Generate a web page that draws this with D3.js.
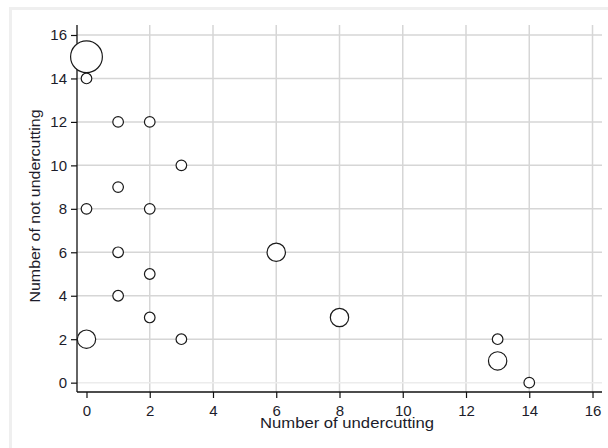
<!DOCTYPE html>
<html>
<head>
<meta charset="utf-8" />
<title>Undercutting</title>
<script src="https://d3js.org/d3.v7.min.js"></script>
<style>
  body { margin: 0; background: #fff; }
  svg text { font-family: "Liberation Sans", Arial, sans-serif; fill: #1c1c2a; }
</style>
</head>
<body>
<div id="chart"></div>
<script>
// observations: x = undercutting, y = not undercutting, n = frequency (marker weight)
var undercut    = [0, 0, 1, 2, 3, 1, 0, 2, 1, 6, 2, 1, 2, 8, 0, 3, 13, 13, 14];
var notUndercut = [15, 14, 12, 12, 10, 9, 8, 8, 6, 6, 5, 4, 3, 3, 2, 2, 2, 1, 0];
var freq        = [9, 1, 1, 1, 1, 1, 1, 1, 1, 3, 1, 1, 1, 3, 3, 1, 1, 3, 1];
var xTicks = [0, 2, 4, 6, 8, 10, 12, 14, 16];
var yTicks = [0, 2, 4, 6, 8, 10, 12, 14, 16];

var width = 608, height = 448;
var plot = {left: 77, right: 602, top: 25, bottom: 392};

var svg = d3.select("#chart").append("svg")
    .attr("width", width)
    .attr("height", height);

// light outer frame
svg.append("rect")
    .attr("x", 10.5).attr("y", 8.5)
    .attr("width", 620).attr("height", 460)
    .style("fill", "none")
    .style("stroke", "#efefef")
    .style("stroke-width", 3);

var x = d3.scaleLinear().domain([-0.3, 16.3]).range([plot.left, plot.right]);
var y = d3.scaleLinear().domain([-0.43, 16.46]).range([plot.bottom, plot.top]);
var r = d3.scaleSqrt().domain([0, 9]).range([0, 15.9]);

// gridlines
svg.append("g").selectAll("line")
    .data(xTicks.filter(function(d) { return d != 0; }))
    .enter().append("line")
    .attr("x1", function(d) { return x(d); })
    .attr("x2", function(d) { return x(d); })
    .attr("y1", plot.top)
    .attr("y2", plot.bottom)
    .style("stroke", "#d6d6d6")
    .style("stroke-width", 1.5);

svg.append("g").selectAll("line")
    .data(yTicks)
    .enter().append("line")
    .attr("x1", plot.left)
    .attr("x2", plot.right)
    .attr("y1", function(d) { return y(d); })
    .attr("y2", function(d) { return y(d); })
    .style("stroke", function(d) { return d == 0 ? "#ececec" : "#d6d6d6"; })
    .style("stroke-width", 1.5);

// axes
var xAxis = d3.axisBottom(x).tickValues(xTicks).tickSize(6).tickPadding(7);
var yAxis = d3.axisLeft(y).tickValues(yTicks).tickSize(6).tickPadding(4);

var gx = svg.append("g")
    .attr("transform", "translate(0," + plot.bottom + ")")
    .call(xAxis);
var gy = svg.append("g")
    .attr("transform", "translate(" + plot.left + ",0)")
    .call(yAxis);

[gx, gy].forEach(function(g) {
    g.select(".domain").remove();
    g.selectAll(".tick line").style("stroke", "#111").style("stroke-width", 1.2);
    g.selectAll(".tick text").style("font-size", "15px").style("fill", "#1c1c2a");
});

svg.append("line")
    .attr("x1", plot.left).attr("x2", plot.right)
    .attr("y1", plot.bottom).attr("y2", plot.bottom)
    .style("stroke", "#111").style("stroke-width", 1.3);
svg.append("line")
    .attr("x1", plot.left).attr("x2", plot.left)
    .attr("y1", plot.top).attr("y2", plot.bottom)
    .style("stroke", "#111").style("stroke-width", 1.3);

// axis titles
svg.append("text")
    .attr("x", 347)
    .attr("y", 428)
    .attr("text-anchor", "middle")
    .attr("textLength", 174)
    .attr("lengthAdjust", "spacingAndGlyphs")
    .style("font-size", "15px")
    .text("Number of undercutting");

svg.append("text")
    .attr("transform", "translate(40,206) rotate(-90)")
    .attr("text-anchor", "middle")
    .attr("textLength", 193)
    .attr("lengthAdjust", "spacingAndGlyphs")
    .style("font-size", "15px")
    .text("Number of not undercutting");

// weighted hollow markers
var pts = undercut.map(function(d, i) {
    return {x: d, y: notUndercut[i], n: freq[i]};
});

svg.append("g").selectAll("circle")
    .data(pts)
    .enter().append("circle")
    .attr("cx", function(d) { return x(d.x); })
    .attr("cy", function(d) { return y(d.y); })
    .attr("r", function(d) { return r(d.n); })
    .style("fill", "white")
    .style("stroke", "#1a1a1a")
    .style("stroke-width", 1.2);
</script>
</body>
</html>
